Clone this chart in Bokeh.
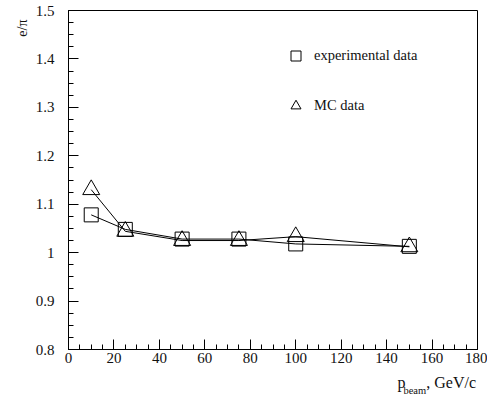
from bokeh.plotting import figure
from bokeh.models import (Range1d, SingleIntervalTicker, FixedTicker, CustomJSTickFormatter,
                          LinearAxis, Legend, LegendItem)
from bokeh.embed import file_html
from bokeh.resources import INLINE
import math

# Beam momentum (GeV/c) and e/pi response ratios
p_beam = [10, 25, 50, 75, 100, 150]
exp_ratio = [1.078, 1.048, 1.028, 1.028, 1.018, 1.013]
mc_ratio = [1.130, 1.044, 1.025, 1.025, 1.033, 1.012]

series_names = ["experimental data", "MC data"]
x_ticks_step = 20
y_ticks_step = 0.1

FONT = "Liberation Serif"
INK = "#111111"

p = figure(width=487, height=407, output_backend="svg", toolbar_location=None,
           x_range=Range1d(0, 180), y_range=Range1d(0.8, 1.5),
           min_border_left=68, min_border_right=10,
           min_border_top=10, min_border_bottom=58)
# pixel-like range for positioning the vertical title along the left side
p.extra_y_ranges = {"side": Range1d(0, 339)}

p.xgrid.visible = False
p.ygrid.visible = False
p.outline_line_color = "black"
p.outline_line_width = 1
p.background_fill_color = "white"
p.border_fill_color = "white"

p.xaxis.ticker = SingleIntervalTicker(interval=x_ticks_step, num_minor_ticks=4)
p.yaxis.ticker = SingleIntervalTicker(interval=y_ticks_step, num_minor_ticks=4)
p.yaxis.formatter = CustomJSTickFormatter(code="return String(Number(tick.toFixed(1)));")

for ax in (p.xaxis, p.yaxis):
    ax.major_tick_in = 10
    ax.major_tick_out = 0
    ax.minor_tick_in = 5
    ax.minor_tick_out = 0
    ax.axis_line_color = "black"
    ax.major_tick_line_color = "black"
    ax.minor_tick_line_color = "black"
    ax.major_label_text_font = FONT
    ax.major_label_text_font_size = "15px"
    ax.major_label_text_color = INK
p.xaxis.major_label_standoff = 3
p.yaxis.major_label_standoff = 14

# connecting lines
p.line(p_beam, exp_ratio, line_color="black", line_width=1)
p.line(p_beam, mc_ratio, line_color="black", line_width=1)

r_exp = p.scatter(p_beam, exp_ratio, marker="square", size=14,
                  line_color="black", line_width=1, fill_alpha=0)
r_mc = p.scatter(p_beam, mc_ratio, marker="triangle", size=17,
                 line_color="black", line_width=1, fill_alpha=0)

legend = Legend(items=[LegendItem(label=series_names[0], renderers=[r_exp]),
                       LegendItem(label=series_names[1], renderers=[r_mc])],
                location=(215, 231), orientation="vertical",
                glyph_width=25, glyph_height=25, label_height=25,
                spacing=25, padding=0, margin=0, label_standoff=6,
                label_text_font=FONT, label_text_font_size="14.5px",
                label_text_color=INK,
                border_line_alpha=0, background_fill_alpha=0)
p.add_layout(legend, "center")


def title_axis(labels, size, standoff, side="below", range_name=None, orientation="horizontal"):
    """Bare axis whose tick labels spell out an axis title."""
    kw = dict(y_range_name=range_name) if range_name else {}
    ax = LinearAxis(ticker=FixedTicker(ticks=list(labels.keys())),
                    major_label_overrides=labels,
                    major_label_text_font=FONT,
                    major_label_text_font_size=size,
                    major_label_text_color=INK,
                    major_label_standoff=standoff,
                    major_label_orientation=orientation,
                    axis_line_color=None, major_tick_line_color=None,
                    minor_tick_line_color=None,
                    major_tick_in=0, major_tick_out=0, **kw)
    p.add_layout(ax, side)
    return ax


# y-axis title: e/pi, near the top of the left side
title_axis({330: "e/\u03c0"}, "14px", 10, side="left", range_name="side",
           orientation=math.pi / 2)

# x-axis title: p_beam, GeV/c
title_axis({146.6: "p", 168.4: ", GeV/c"}, "16px", 8)
title_axis({152.4: "beam"}, "10.5px", -9)

open("out.html", "w").write(file_html(p, INLINE))
